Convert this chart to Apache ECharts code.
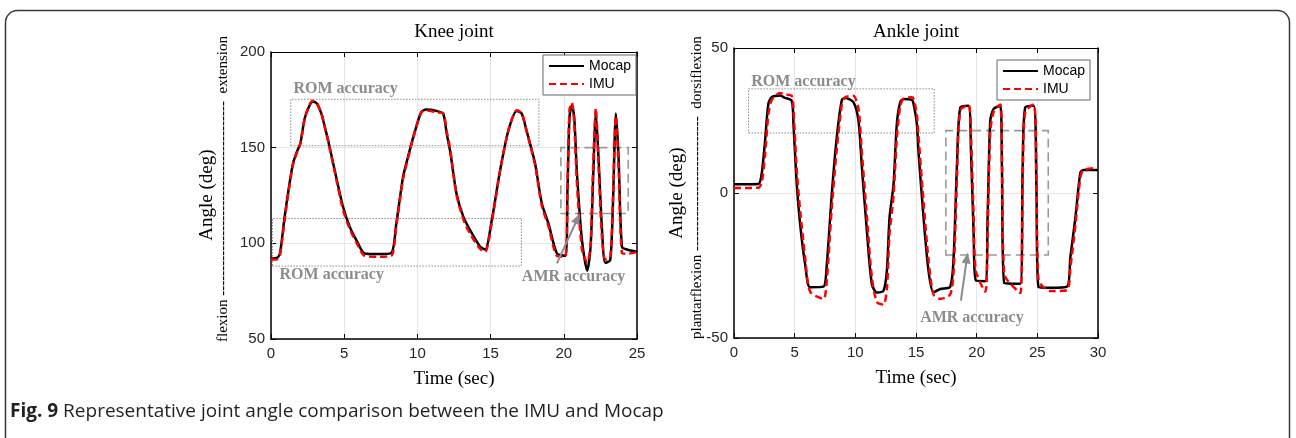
<!DOCTYPE html>
<html><head><meta charset="utf-8">
<script src="https://cdn.jsdelivr.net/npm/echarts/dist/echarts.min.js"></script>
<style>html,body{margin:0;padding:0;background:#fff}#c{width:1296px;height:438px}</style>
</head><body><div id="c"></div>
<script>
// ---------- Knee joint data ----------
const kneeTime  = [0, 0.45, 0.62, 0.93, 1.2, 1.5, 1.8, 2.0, 2.3, 2.6, 2.85, 3.1, 3.44, 3.7, 3.9, 4.35, 4.92, 5.38, 5.83, 6.4, 7.3, 8.22, 8.56, 9.02, 9.36, 9.82, 10.27, 10.6, 11.3, 11.76, 12.0, 12.24, 12.67, 13.14, 13.6, 14.29, 14.63, 15.08, 15.65, 16.22, 16.79, 17.13, 17.45, 17.7, 18.04, 18.5, 18.95, 19.53, 20.1, 20.25, 20.39, 20.55, 20.71, 20.9, 21.24, 21.6, 21.83, 22.0, 22.19, 22.37, 22.6, 22.83, 23.17, 23.35, 23.56, 23.74, 23.97, 24.31, 25];
const kneeMocap = [92.1, 92.6, 95, 113.8, 128, 141.7, 148.5, 152, 165.2, 171.5, 174, 173.4, 167.8, 160, 153.9, 138.2, 119.1, 108.6, 101.7, 94.7, 94.4, 95.0, 110.4, 134.7, 145.2, 158.2, 168.7, 169.9, 169.2, 167.8, 157.4, 148, 126, 113.8, 106.9, 98.2, 96.8, 112.1, 138.2, 159.1, 169.2, 167.8, 159, 152, 141.7, 120.8, 110.4, 94.7, 93.5, 127.8, 166.1, 172.2, 166.1, 136.5, 101.7, 85.7, 98.2, 133, 167.8, 145, 108.6, 89.8, 91.2, 119, 167.8, 145, 98.2, 96.8, 95.6];
const kneeIMU   = [91.5, 91.8, 94, 112, 127, 141, 148, 152, 165, 172, 174.5, 173.8, 168, 160, 153.5, 137.5, 117.5, 107.5, 100.5, 93.5, 93, 93.5, 109, 133.5, 144.5, 158, 168.5, 169.5, 168.5, 168, 158.5, 149, 125.5, 112.5, 105, 97, 95.5, 111, 138, 159, 169.5, 168, 159, 151.5, 141, 119.5, 109, 93.5, 93, 130, 170, 173.5, 163, 131, 97, 90, 99, 140, 170.5, 141, 104, 91.5, 92.5, 122, 166.5, 141, 95, 94.5, 95.5];

// ---------- Ankle joint data ----------
const ankleTime  = [0, 2.0, 2.28, 2.56, 2.83, 3.1, 3.8, 4.2, 4.76, 4.9, 5.17, 5.45, 5.86, 6.27, 7.37, 7.65, 8.06, 8.47, 8.89, 9.16, 9.84, 10.26, 10.54, 10.95, 11.36, 11.77, 12.32, 12.6, 12.82, 13.15, 13.42, 13.7, 13.97, 14.66, 14.8, 15.07, 15.2, 15.62, 16.03, 16.44, 17.0, 17.82, 18.1, 18.37, 18.65, 19.33, 19.53, 19.75, 19.94, 20.71, 20.9, 21.12, 21.4, 21.95, 22.08, 22.28, 23.6, 23.79, 24.0, 24.7, 24.92, 25.1, 26.07, 27.45, 27.72, 28.14, 28.55, 28.82, 30];
const ankleMocap = [3.0, 3.1, 6.6, 18, 30.7, 33, 33.6, 32.8, 31.8, 23.8, 3.1, -10.7, -24.5, -32.5, -32.3, -24.5, -0.3, 19.2, 32.1, 32.8, 31.3, 24.9, 8.9, -13, -31.4, -34.3, -33.7, -26.8, -8.4, 3.1, 23.8, 31.3, 32.4, 32.1, 30.7, 23.8, 14.6, -8.4, -26.8, -34.3, -33.1, -32.3, -22.2, 8.9, 29.5, 30.1, 14.6, -14.1, -30.2, -30.4, -8.4, 24.9, 29, 30.1, 8.9, -31.1, -31.3, 8.9, 29.5, 30.1, 3.1, -32.5, -32.7, -32.3, -22.2, -8.4, 7.1, 7.9, 7.9];
const ankleIMU   = [1.7, 1.8, 3.5, 13, 27, 32, 34.5, 34, 33.5, 29, 8, -6, -22, -34, -36.5, -30, -5, 15, 30.5, 33, 33.5, 29, 14, -8, -29, -37.5, -38.5, -33, -14, -1, 19, 30, 32.5, 33, 32.5, 27, 20, -3, -23, -35, -36.5, -35, -27, 4, 28.5, 30.3, 20, -8, -27, -34, -15, 21, 28, 30.5, 15, -28, -34.5, 3, 28, 30.5, 8, -30, -33.8, -33.5, -26, -11, 5.5, 8, 8.6];

// ---------- Annotation coordinates (data units) ----------
const kneeRomUpper = [[1.35, 151], [18.3, 175.3]];
const kneeRomLower = [[0.1, 88.1], [17.1, 113]];
const kneeAmrBox   = [[19.8, 115.6], [24.4, 150]];
const kneeArrow    = [[19.53, 89.5], [20.94, 113]];
const kneeLabels   = [[1.5, 180.8, 'ROM accuracy'], [0.55, 83.4, 'ROM accuracy'], [17.1, 82.6, 'AMR accuracy']];

const ankleRom     = [[1.2, 20.7], [16.5, 35.9]];
const ankleAmrBox  = [[17.46, -21.4], [25.9, 21.5]];
const ankleArrow   = [[18.7, -37.1], [19.2, -22.4]];
const ankleLabels  = [[1.38, 38.4, 'ROM accuracy'], [15.3, -43.2, 'AMR accuracy']];

const seriesNames = ['Mocap', 'IMU'];
const titles = ['Knee joint', 'Ankle joint'];

const pairs = (t, v) => t.map((x, i) => [x, v[i]]);
const SERIF = '"Liberation Serif", "Times New Roman", serif';
const SANS = '"Liberation Sans", Arial, sans-serif';
const annGray = '#8c8c8c';

function xAxes(gi, max) {
  return [
    { gridIndex: gi, type: 'value', min: 0, max: max, interval: 5, position: 'bottom',
      axisLine: { show: true, onZero: false, lineStyle: { color: '#000', width: 1.5 } },
      axisTick: { show: true, inside: true, length: 5, lineStyle: { color: '#000', width: 1 } },
      axisLabel: { fontFamily: SANS, fontSize: 15, color: '#262626', margin: 7 },
      splitLine: { show: true, lineStyle: { color: '#e6e6e6', width: 1 } },
      name: 'Time (sec)', nameLocation: 'middle', nameGap: 31,
      nameTextStyle: { fontFamily: SERIF, fontSize: 19, color: '#000' } },
    { gridIndex: gi, type: 'value', min: 0, max: max, interval: 5, position: 'top',
      axisLine: { show: true, onZero: false, lineStyle: { color: '#000', width: 1.2 } },
      axisTick: { show: true, inside: true, length: 5, lineStyle: { color: '#000' } },
      axisLabel: { show: false }, splitLine: { show: false } }
  ];
}
function yAxes(gi, min, max) {
  return [
    { gridIndex: gi, type: 'value', min: min, max: max, interval: 50, position: 'left',
      axisLine: { show: true, onZero: false, lineStyle: { color: '#000', width: 1.5 } },
      axisTick: { show: true, inside: true, length: 5, lineStyle: { color: '#000' } },
      axisLabel: { fontFamily: SANS, fontSize: 15, color: '#262626', margin: 6 },
      splitLine: { show: true, lineStyle: { color: '#e6e6e6', width: 1 } } },
    { gridIndex: gi, type: 'value', min: min, max: max, interval: 50, position: 'right',
      axisLine: { show: true, onZero: false, lineStyle: { color: '#000', width: 1.5 } },
      axisTick: { show: true, inside: true, length: 5, lineStyle: { color: '#000' } },
      axisLabel: { show: false }, splitLine: { show: false } }
  ];
}

function labelPoints(list) {
  return {
    silent: true, animation: false,
    symbol: 'circle', symbolSize: 1,
    itemStyle: { color: 'rgba(0,0,0,0)' },
    label: { show: true, position: 'right', distance: 0, color: annGray,
             fontFamily: SERIF, fontWeight: 'bold', fontSize: 16 },
    data: list.map(l => ({ coord: [l[0], l[1]], label: { formatter: l[2] } }))
  };
}
function areas(dotted, dashed) {
  return {
    silent: true, animation: false,
    label: { show: false },
    data: dotted.map(b => [
      { coord: b[0], itemStyle: { color: 'rgba(0,0,0,0)', borderColor: '#8a8a8a', borderWidth: 1, borderType: [1.5, 1.5] } },
      { coord: b[1] }
    ]).concat(dashed.map(b => [
      { coord: b[0], itemStyle: { color: 'rgba(0,0,0,0)', borderColor: '#999', borderWidth: 1.6, borderType: [9, 5] } },
      { coord: b[1] }
    ]))
  };
}
function arrow(a) {
  return {
    silent: true, animation: false,
    symbol: ['none', 'triangle'], symbolSize: [9, 11],
    label: { show: false },
    lineStyle: { color: annGray, width: 2, type: 'solid' },
    data: [[{ coord: a[0] }, { coord: a[1] }]]
  };
}

function lineSeries(name, xi, t, v, isImu, extra) {
  return Object.assign({
    type: 'line', name: name, xAxisIndex: xi, yAxisIndex: xi,
    data: pairs(t, v), showSymbol: false, symbol: 'none', smooth: 0.25,
    lineStyle: isImu ? { color: '#ff0000', width: 2.5, type: [7, 4] } : { color: '#000', width: 2.5 },
    itemStyle: { color: isImu ? '#ff0000' : '#000' },
    z: isImu ? 4 : 3, animation: false
  }, extra || {});
}

const legendBase = {
  data: seriesNames, orient: 'vertical', itemWidth: 35, itemHeight: 12, itemGap: 4,
  padding: [4, 5, 4, 5], borderColor: '#666', borderWidth: 1, backgroundColor: '#fff',
  itemStyle: { color: 'rgba(0,0,0,0)', borderColor: 'rgba(0,0,0,0)', borderWidth: 0, opacity: 0 },
  textStyle: { fontFamily: SANS, fontSize: 14, color: '#000' }
};

const option = {
  animation: false,
  backgroundColor: '#fff',
  title: [
    { text: titles[0], left: 454, top: 23, textAlign: 'center', padding: 0,
      textStyle: { fontFamily: SERIF, fontSize: 19, fontWeight: 'normal', color: '#000' } },
    { text: titles[1], left: 916, top: 23, textAlign: 'center', padding: 0,
      textStyle: { fontFamily: SERIF, fontSize: 19, fontWeight: 'normal', color: '#000' } }
  ],
  legend: [
    Object.assign({}, legendBase, { left: 543, top: 55 }),
    Object.assign({}, legendBase, { left: 997, top: 60 })
  ],
  grid: [
    { left: 271, top: 52, width: 366, height: 287 },
    { left: 734, top: 48, width: 364, height: 290 }
  ],
  xAxis: xAxes(0, 25).concat(xAxes(1, 30)),
  yAxis: yAxes(0, 50, 200).concat(yAxes(1, -50, 50)),
  series: [
    lineSeries(seriesNames[0], 0, kneeTime, kneeMocap, false, {
      markArea: areas([kneeRomUpper, kneeRomLower], [kneeAmrBox]),
      markPoint: labelPoints(kneeLabels),
      markLine: arrow(kneeArrow)
    }),
    lineSeries(seriesNames[1], 0, kneeTime, kneeIMU, true),
    lineSeries(seriesNames[0], 2, ankleTime, ankleMocap, false, {
      markArea: areas([ankleRom], [ankleAmrBox]),
      markPoint: labelPoints(ankleLabels),
      markLine: arrow(ankleArrow)
    }),
    lineSeries(seriesNames[1], 2, ankleTime, ankleIMU, true)
  ],
  graphic: [
    { type: 'rect', z: -10, silent: true,
      shape: { x: 5.5, y: 10.5, width: 1284, height: 470, r: 12 },
      style: { fill: 'none', stroke: '#3a3a3a', lineWidth: 1.5 } },
    { type: 'text', x: 207, y: 195, rotation: Math.PI / 2, silent: true,
      style: { text: 'Angle (deg)', fontFamily: SERIF, fontSize: 19, fill: '#000', align: 'center', verticalAlign: 'middle' } },
    { type: 'text', x: 223, y: 342, rotation: Math.PI / 2, silent: true,
      style: { text: 'flexion ---------------------------------------  extension', fontFamily: SERIF, fontSize: 15, fill: '#000', align: 'left', verticalAlign: 'middle' } },
    { type: 'text', x: 677, y: 193, rotation: Math.PI / 2, silent: true,
      style: { text: 'Angle (deg)', fontFamily: SERIF, fontSize: 19, fill: '#000', align: 'center', verticalAlign: 'middle' } },
    { type: 'text', x: 697, y: 339, rotation: Math.PI / 2, silent: true,
      style: { text: 'plantarflexion ---------------------------  dorsiflexion', fontFamily: SERIF, fontSize: 15, fill: '#000', align: 'left', verticalAlign: 'middle' } },
    { type: 'text', x: 10, y: 412, silent: true,
      style: { text: '{b|Fig. 9} Representative joint angle comparison between the IMU and Mocap',
               fontFamily: '"Open Sans", sans-serif', fontSize: 19, fill: '#231f20', align: 'left', verticalAlign: 'middle',
               rich: { b: { fontFamily: '"Open Sans", sans-serif', fontSize: 19, fontWeight: 'bold', fill: '#231f20' } } } }
  ]
};

const chart = echarts.init(document.getElementById('c'), null, { renderer: 'canvas' });
chart.setOption(option);
</script>
</body></html>
